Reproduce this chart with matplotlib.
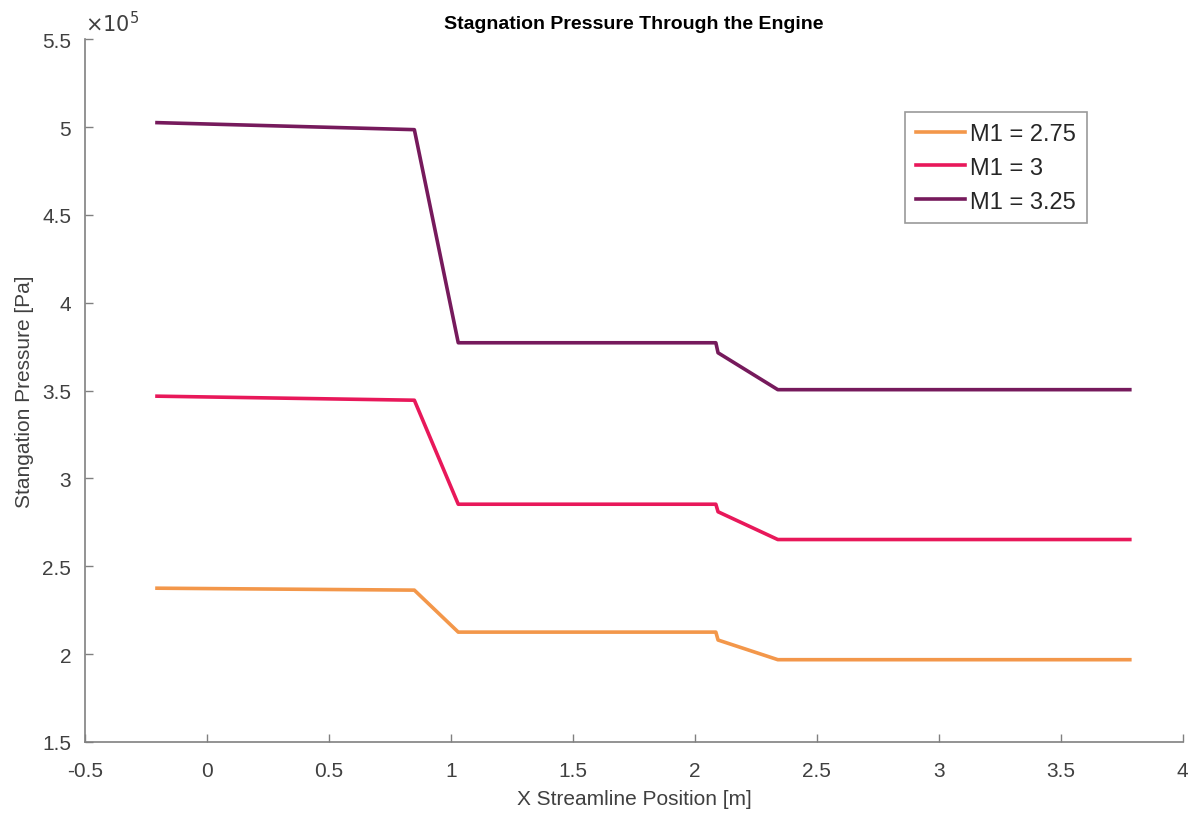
import numpy as np
import matplotlib.pyplot as plt
from matplotlib.ticker import FuncFormatter

plt.rcParams['font.family'] = ['Liberation Sans', 'DejaVu Sans']

# streamline stations [m] and stagnation pressure [Pa] for each inlet Mach number
x_m275 = [-0.205, 0.85, 1.03, 2.086, 2.095, 2.34, 3.783]
p0_m275 = [2.375e5, 2.364e5, 2.125e5, 2.125e5, 2.08e5, 1.968e5, 1.968e5]

x_m3 = [-0.205, 0.85, 1.03, 2.086, 2.095, 2.34, 3.783]
p0_m3 = [3.468e5, 3.445e5, 2.853e5, 2.853e5, 2.81e5, 2.652e5, 2.652e5]

x_m325 = [-0.205, 0.85, 1.03, 2.086, 2.095, 2.34, 3.783]
p0_m325 = [5.025e5, 4.985e5, 3.772e5, 3.772e5, 3.715e5, 3.505e5, 3.505e5]

labels = ['M1 = 2.75', 'M1 = 3', 'M1 = 3.25']
colors = ['#F3974A', '#E8185A', '#761A5C']

fig = plt.figure(figsize=(12.01, 8.2), dpi=100)
ax = fig.add_axes([0.0708, 0.094, 0.914, 0.857])

for xs, ps, lab, c in zip([x_m275, x_m3, x_m325], [p0_m275, p0_m3, p0_m325], labels, colors):
    ax.plot(xs, ps, color=c, lw=2.6, label=lab)

ax.set_xlim(-0.5, 4)
ax.set_ylim(1.5e5, 5.5e5)
ax.set_xticks(np.arange(-0.5, 4.01, 0.5))
ax.set_yticks(np.arange(1.5e5, 5.51e5, 0.5e5))
ax.xaxis.set_major_formatter(FuncFormatter(lambda v, p: f'{v:g}'))
ax.yaxis.set_major_formatter(FuncFormatter(lambda v, p: f'{v / 1e5:g}'))

gray = '#262626'
for side in ['top', 'right']:
    ax.spines[side].set_visible(False)
for side in ['left', 'bottom']:
    ax.spines[side].set_color('#808080')
    ax.spines[side].set_linewidth(1.2)
ax.tick_params(direction='in', length=6, width=1, color='#808080',
               labelcolor='#404040', labelsize=15)
ax.tick_params(axis='y', pad=10)
ax.tick_params(axis='x', pad=14)

ax.text(0.0, 1.005, r'$\times 10^5$', transform=ax.transAxes, fontsize=15,
        color='#404040', ha='left', va='bottom')

ax.set_title('Stagnation Pressure Through the Engine', fontsize=14,
             fontweight='bold', color='black', pad=8)
ax.set_xlabel('X Streamline Position [m]', fontsize=15, color='#404040', labelpad=6)
ax.set_ylabel('Stangation Pressure [Pa]', fontsize=15, color='#404040', labelpad=6)

leg = ax.legend(loc='upper right', bbox_to_anchor=(0.9125, 0.896), fontsize=17,
                frameon=True, fancybox=False, handlelength=2.1, handletextpad=0.2,
                borderpad=0.45, labelspacing=0.5, borderaxespad=0)
leg.get_frame().set_edgecolor('#808080')
leg.get_frame().set_linewidth(1.2)
for t in leg.get_texts():
    t.set_color(gray)

fig.savefig('out.png', dpi=100)
